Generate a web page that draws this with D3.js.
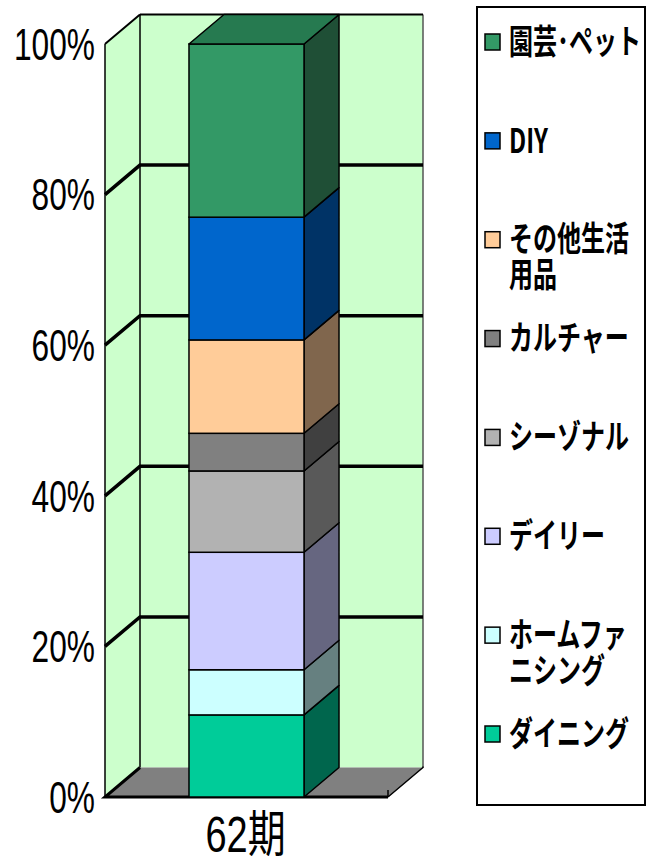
<!DOCTYPE html>
<html>
<head>
<meta charset="utf-8">
<script src="https://cdn.jsdelivr.net/npm/d3@7"></script>
<style>
  html, body { margin: 0; padding: 0; background: #fff; }
  svg { display: block; }
</style>
</head>
<body>
<svg id="chart" width="646" height="856"></svg>
<script>
// Sales mix by department, period 62 (percent of total)
const categories = ["62期"];
const seriesNames = ["ダイニング", "ホームファニシング", "デイリー", "シーゾナル", "カルチャー", "その他生活用品", "DIY", "園芸･ペット"];
const shares = [10.9, 6.0, 15.6, 10.8, 5.0, 12.4, 16.3, 23.0];
const legendLines = [["ダイニング"], ["ホームファ", "ニシング"], ["デイリー"], ["シーゾナル"], ["カルチャー"], ["その他生活", "用品"], ["DIY"], ["園芸･ペット"]];
const frontColors = ["#00cc99", "#ccffff", "#ccccff", "#b2b2b2", "#808080", "#ffcc99", "#0066cc", "#339966"];
const sideColors  = ["#00664d", "#668080", "#666680", "#595959", "#404040", "#80664d", "#003366", "#1f4f36"];
const topColors   = ["#00997a", "#99bfbf", "#9999bf", "#868686", "#606060", "#bf9973", "#004d99", "#267a50"];
const yTicks = [0, 20, 40, 60, 80, 100];
const yTickLabels = ["0%", "20%", "40%", "60%", "80%", "100%"];

const svg = d3.select("#chart");

// front plane of the 3-D box, and the depth offset to the back wall
const y = d3.scaleLinear().domain([0, 100]).range([797, 44]);
const x = d3.scaleBand().domain(categories).range([105, 388]).paddingInner(0.422).paddingOuter(0.422);
const DX = 35, DY = -29.5;
const x0 = 105, x1 = 388;

const pts = a => a.map(p => p.join(",")).join(" ");

// back wall
svg.append("polygon")
  .attr("points", pts([[x0 + DX, y(100) + DY], [x1 + DX, y(100) + DY], [x1 + DX, y(0) + DY], [x0 + DX, y(0) + DY]]))
  .attr("fill", "#ccffcc").attr("stroke", "none");
// left side wall
svg.append("polygon")
  .attr("points", pts([[x0, y(100)], [x0 + DX, y(100) + DY], [x0 + DX, y(0) + DY], [x0, y(0)]]))
  .attr("fill", "#ccffcc").attr("stroke", "none");
// floor
svg.append("polygon")
  .attr("points", pts([[x0, y(0)], [x0 + DX, y(0) + DY], [x1 + DX, y(0) + DY], [x1, y(0)]]))
  .attr("fill", "#808080").attr("stroke", "none");

// wall outlines
svg.append("line").attr("x1", x0 + DX).attr("y1", y(100) + DY).attr("x2", x0 + DX).attr("y2", y(0) + DY)
  .attr("stroke", "#000").attr("stroke-width", 1.5);
svg.append("line").attr("x1", x1 + DX).attr("y1", y(100) + DY).attr("x2", x1 + DX).attr("y2", y(0) + DY)
  .attr("stroke", "#555").attr("stroke-width", 1.5);
svg.append("line").attr("x1", x0).attr("y1", y(100)).attr("x2", x0).attr("y2", y(0))
  .attr("stroke", "#000").attr("stroke-width", 1.5);
svg.append("line").attr("x1", x0 + DX).attr("y1", y(100) + DY).attr("x2", x1 + DX).attr("y2", y(100) + DY)
  .attr("stroke", "#000").attr("stroke-width", 2);
svg.append("line").attr("x1", x0).attr("y1", y(100)).attr("x2", x0 + DX).attr("y2", y(100) + DY)
  .attr("stroke", "#000").attr("stroke-width", 2);

// gridlines on back and side walls
const grid = yTicks.filter(t => t > 0 && t < 100);
svg.append("g").selectAll("path").data(grid).join("path")
  .attr("d", t => `M${x0},${y(t)}L${x0 + DX},${y(t) + DY}L${x1 + DX},${y(t) + DY}`)
  .attr("fill", "none").attr("stroke", "#000").attr("stroke-width", 3.5);

// floor edges
svg.append("path")
  .attr("d", `M${x0 + DX},${y(0) + DY}L${x0},${y(0)}L${x1},${y(0)}`)
  .attr("fill", "none").attr("stroke", "#000").attr("stroke-width", 3);
svg.append("path")
  .attr("d", `M${x1},${y(0)}L${x1 + DX},${y(0) + DY}L${x1 + DX},${y(0) + DY - 1}`)
  .attr("fill", "none").attr("stroke", "#000").attr("stroke-width", 1.5);
svg.append("line").attr("x1", x1).attr("y1", y(0)).attr("x2", x1).attr("y2", y(0) - 7)
  .attr("stroke", "#000").attr("stroke-width", 1.5);

// stacked 3-D bar
const tops = d3.cumsum(shares);
const segs = shares.map((v, i) => ({ i, y0: tops[i] - v, y1: tops[i] }));
const bx = x(categories[0]), bw = x.bandwidth();
const bar = svg.append("g");
// side faces
bar.selectAll("polygon.side").data(segs).join("polygon")
  .attr("class", "side")
  .attr("points", d => pts([[bx + bw, y(d.y1)], [bx + bw + DX, y(d.y1) + DY], [bx + bw + DX, y(d.y0) + DY], [bx + bw, y(d.y0)]]))
  .attr("fill", d => sideColors[d.i]).attr("stroke", "#000").attr("stroke-width", 1.5).attr("stroke-linejoin", "round");
// front faces
bar.selectAll("rect").data(segs).join("rect")
  .attr("x", bx).attr("width", bw)
  .attr("y", d => y(d.y1)).attr("height", d => y(d.y0) - y(d.y1))
  .attr("fill", d => frontColors[d.i]).attr("stroke", "#000").attr("stroke-width", 1.5);
// top face
const last = segs[segs.length - 1];
bar.append("polygon")
  .attr("points", pts([[bx, y(last.y1)], [bx + DX, y(last.y1) + DY], [bx + bw + DX, y(last.y1) + DY], [bx + bw, y(last.y1)]]))
  .attr("fill", topColors[last.i]).attr("stroke", "#000").attr("stroke-width", 1.5).attr("stroke-linejoin", "round");

// value axis labels
svg.append("g").selectAll("text").data(yTicks).join("text")
  .attr("transform", (t) => `translate(95,${y(t)}) scale(0.72,1)`)
  .attr("dy", "0.36em")
  .attr("text-anchor", "end")
  .attr("font-family", "'Liberation Sans', Arial, sans-serif")
  .attr("font-size", 44)
  .attr("fill", "#000")
  .text((t, i) => yTickLabels[i]);

// category label
svg.append("g").selectAll("text").data(categories).join("text")
  .attr("transform", d => `translate(${x(d) + bw / 2 - 1},852) scale(1,1.32)`)
  .attr("text-anchor", "middle")
  .attr("font-family", "'Liberation Sans', 'Noto Sans CJK JP', sans-serif")
  .attr("font-size", 38)
  .attr("fill", "#000")
  .text(d => d);

// legend
const legend = svg.append("g");
legend.append("rect")
  .attr("x", 477).attr("y", 7).attr("width", 168).attr("height", 798)
  .attr("fill", "#fff").attr("stroke", "#000").attr("stroke-width", 2);
const order = d3.range(seriesNames.length).reverse();
const ly = d3.scalePoint().domain(order).range([42, 734]);
const items = legend.selectAll("g.item").data(order).join("g")
  .attr("class", "item")
  .attr("transform", i => `translate(0,${ly(i)})`);
items.append("rect")
  .attr("x", 485).attr("y", -8).attr("width", 15).attr("height", 16)
  .attr("fill", i => frontColors[i]).attr("stroke", "#000").attr("stroke-width", 1.5);
items.each(function (i) {
  const g = d3.select(this);
  legendLines[i].forEach((line, k) => {
    g.append("text")
      .attr("transform", `translate(509,${k * 36}) scale(1,1.4)`)
      .attr("dy", "0.35em")
      .attr("font-family", "'Noto Sans CJK JP', sans-serif")
      .attr("font-weight", "bold")
      .attr("font-size", 24)
      .attr("fill", "#000")
      .text(line);
  });
});
</script>
</body>
</html>
